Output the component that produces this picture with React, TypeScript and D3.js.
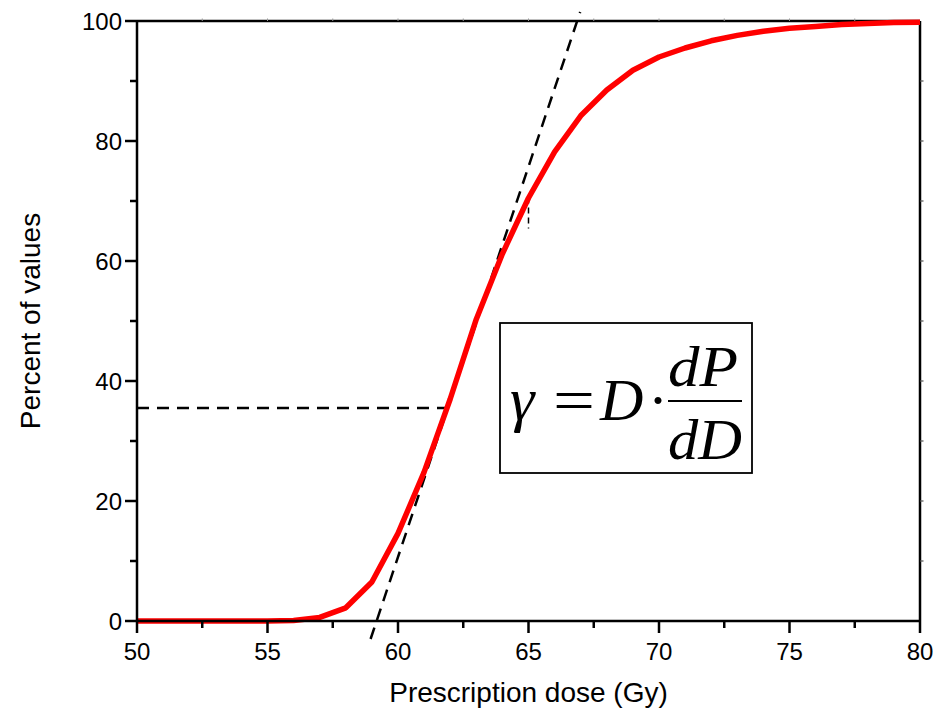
import React from "react";
import * as d3 from "d3";

// Cumulative percentage of values versus prescription dose
const doses = [50, 51, 52, 53, 54, 55, 56, 57, 58, 59, 60, 61, 62, 63, 64, 65, 66, 67, 68, 69, 70, 71, 72, 73, 74, 75, 76, 77, 78, 79, 80];
const percents = [0, 0, 0, 0, 0, 0, 0.1, 0.6, 2.2, 6.5, 14.6, 24.8, 37, 50.3, 61.2, 70.5, 78.2, 84.2, 88.5, 91.8, 94, 95.5, 96.7, 97.6, 98.3, 98.8, 99.1, 99.4, 99.6, 99.75, 99.8];

// Tangent line at the steepest part of the curve
const tangentDose = [58.95, 66.98];
const tangentPercent = [-3, 101.5];

// Horizontal reference level
const refDose = [50, 62.07];
const refPercent = [35.5, 35.5];

// Short leftover guide at 65 Gy
const guideDose = [65, 65];
const guidePercent = [70.6, 65.4];

const xTicks = [50, 55, 60, 65, 70, 75, 80];
const xMinor = [52.5, 57.5, 62.5, 67.5, 72.5, 77.5];
const yTicks = [0, 20, 40, 60, 80, 100];
const yMinor = [10, 30, 50, 70, 90];

const W = 933;
const H = 715;
const left = 137;
const right = 920;
const top = 21;
const bottom = 621;

export default function App() {
  const x = d3.scaleLinear().domain([50, 80]).range([left, right]);
  const y = d3.scaleLinear().domain([0, 100]).range([bottom, top]);

  const curve = d3
    .line<number>()
    .x((_, i) => x(doses[i]))
    .y((p) => y(p));

  const seg = (ds: number[], ps: number[]) =>
    d3
      .line<number>()
      .x((_, i) => x(ds[i]))
      .y((p) => y(p))(ps) as string;

  const font = "Arial, 'Liberation Sans', sans-serif";
  const serif = "'Times New Roman', 'Liberation Serif', serif";

  return (
    <svg
      width={W}
      height={H}
      style={{ position: "absolute", left: 0, top: 0, background: "#fff" }}
    >
      {/* frame */}
      <line x1={left} x2={right} y1={top} y2={top} stroke="#000" strokeWidth={2.5} />
      <line x1={right} x2={right} y1={top} y2={bottom} stroke="#000" strokeWidth={2.5} />

      {/* faint ticks on top and right edges */}
      {xMinor.concat(xTicks.slice(1, -1)).map((d) => (
        <line key={"tt" + d} x1={x(d)} x2={x(d)} y1={top} y2={top - 2.5} stroke="#999" strokeWidth={1} />
      ))}
      {yMinor.concat(yTicks.slice(1, -1)).map((v) => (
        <line key={"rt" + v} x1={right} x2={right + 3.5} y1={y(v)} y2={y(v)} stroke="#555" strokeWidth={1.2} />
      ))}

      {/* dashed reference lines */}
      <path d={seg(refDose, refPercent)} fill="none" stroke="#000" strokeWidth={2.5} strokeDasharray="12 8" />
      <path d={seg(tangentDose, tangentPercent)} fill="none" stroke="#000" strokeWidth={2.5} strokeDasharray="12 8" />
      <path d={seg(guideDose, guidePercent)} fill="none" stroke="#000" strokeWidth={1.5} strokeDasharray="6 4" />

      {/* data curve */}
      <path
        d={curve(percents) as string}
        fill="none"
        stroke="#ff0000"
        strokeWidth={5.5}
        strokeLinejoin="round"
      />

      {/* y axis */}
      <line x1={left} x2={left} y1={top - 1} y2={bottom + 1} stroke="#000" strokeWidth={2.5} />
      {yTicks.map((v) => (
        <g key={"y" + v}>
          <line x1={left - 12} x2={left} y1={y(v)} y2={y(v)} stroke="#000" strokeWidth={2.5} />
          <text
            x={left - 15}
            y={y(v)}
            dy="0.36em"
            textAnchor="end"
            fontFamily={font}
            fontSize={24}
            fill="#000"
          >
            {v}
          </text>
        </g>
      ))}
      {yMinor.map((v) => (
        <line key={"ym" + v} x1={left - 7} x2={left} y1={y(v)} y2={y(v)} stroke="#000" strokeWidth={2.5} />
      ))}

      {/* x axis */}
      <line x1={left - 1} x2={right + 1} y1={bottom} y2={bottom} stroke="#000" strokeWidth={2.5} />
      {xTicks.map((d) => (
        <g key={"x" + d}>
          <line x1={x(d)} x2={x(d)} y1={bottom} y2={bottom + 12} stroke="#000" strokeWidth={2.5} />
          <text
            x={x(d)}
            y={bottom + 39}
            textAnchor="middle"
            fontFamily={font}
            fontSize={24}
            fill="#000"
          >
            {d}
          </text>
        </g>
      ))}
      {xMinor.map((d) => (
        <line key={"xm" + d} x1={x(d)} x2={x(d)} y1={bottom} y2={bottom + 7} stroke="#000" strokeWidth={2.5} />
      ))}

      {/* axis titles */}
      <text
        x={(left + right) / 2}
        y={702}
        textAnchor="middle"
        fontFamily={font}
        fontSize={28}
        fill="#000"
      >
        Prescription dose (Gy)
      </text>
      <text
        transform={`translate(40, ${(top + bottom) / 2}) rotate(-90)`}
        textAnchor="middle"
        fontFamily={font}
        fontSize={28}
        fill="#000"
      >
        Percent of values
      </text>

      {/* formula box */}
      <rect x={500} y={323} width={252} height={150} fill="#fff" stroke="#000" strokeWidth={1.8} />
      <g fontFamily={serif} fill="#000">
        <text x={510} y={420} fontSize={62} fontStyle="italic">γ</text>
        <text x={553} y={420} fontSize={60} textLength={42} lengthAdjust="spacingAndGlyphs">=</text>
        <text x={600} y={420} fontSize={60} fontStyle="italic">D</text>
        <text x={648} y={420} fontSize={60}>·</text>
        <text x={668} y={386} fontSize={56} fontStyle="italic" textLength={70} lengthAdjust="spacingAndGlyphs">dP</text>
        <text x={668} y={459} fontSize={56} fontStyle="italic" textLength={74} lengthAdjust="spacingAndGlyphs">dD</text>
      </g>
      <line x1={668} x2={742} y1={401} y2={401} stroke="#000" strokeWidth={2} />
    </svg>
  );
}
